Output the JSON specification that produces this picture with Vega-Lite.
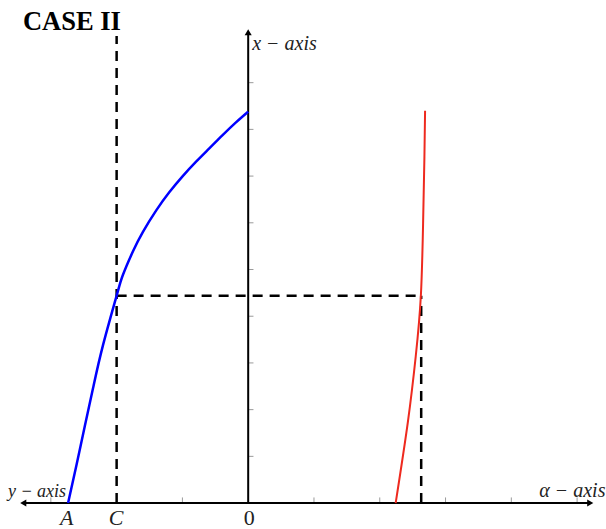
{
  "$schema": "https://vega.github.io/schema/vega-lite/v6.json",
  "width": 606,
  "height": 529,
  "padding": 0,
  "autosize": {"type": "fit", "contains": "padding"},
  "background": "white",
  "config": {"view": {"stroke": null}},
  "datasets": {
    "axes": [
      {"u": -3.42, "v": 0, "u2": 5.2, "v2": 0},
      {"u": 0, "v": 0, "u2": 0, "v2": 10.08}
    ],
    "hticks": [
      {"u": -3, "v": 0, "u2": -3, "v2": 0.12},
      {"u": -1, "v": 0, "u2": -1, "v2": 0.12},
      {"u": 1, "v": 0, "u2": 1, "v2": 0.12},
      {"u": 2, "v": 0, "u2": 2, "v2": 0.12},
      {"u": 3, "v": 0, "u2": 3, "v2": 0.12},
      {"u": 4, "v": 0, "u2": 4, "v2": 0.12},
      {"u": 5, "v": 0, "u2": 5, "v2": 0.12},
      {"u": 0, "v": 1, "u2": 0.08, "v2": 1},
      {"u": 0, "v": 2, "u2": 0.08, "v2": 2},
      {"u": 0, "v": 3, "u2": 0.08, "v2": 3},
      {"u": 0, "v": 4, "u2": 0.08, "v2": 4},
      {"u": 0, "v": 5, "u2": 0.08, "v2": 5},
      {"u": 0, "v": 6, "u2": 0.08, "v2": 6},
      {"u": 0, "v": 7, "u2": 0.08, "v2": 7},
      {"u": 0, "v": 8, "u2": 0.08, "v2": 8},
      {"u": 0, "v": 9, "u2": 0.08, "v2": 9}
    ],
    "dashed": [
      {"u": -2.0, "v": 0, "u2": -2.0, "v2": 10.0},
      {"u": -2.0, "v": 4.44, "u2": 2.63, "v2": 4.44},
      {"u": 2.63, "v": 0, "u2": 2.63, "v2": 4.44}
    ],
    "blue": [
      {"i": 0, "u": -2.738, "v": 0},
      {"i": 1, "u": -2.611, "v": 0.808},
      {"i": 2, "u": -2.485, "v": 1.641},
      {"i": 3, "u": -2.359, "v": 2.457},
      {"i": 4, "u": -2.208, "v": 3.376},
      {"i": 5, "u": -2.0, "v": 4.44},
      {"i": 6, "u": -1.905, "v": 4.882},
      {"i": 7, "u": -1.753, "v": 5.385},
      {"i": 8, "u": -1.602, "v": 5.801},
      {"i": 9, "u": -1.398, "v": 6.265},
      {"i": 10, "u": -1.197, "v": 6.658},
      {"i": 11, "u": -0.995, "v": 7.0},
      {"i": 12, "u": -0.792, "v": 7.31},
      {"i": 13, "u": -0.591, "v": 7.594},
      {"i": 14, "u": -0.389, "v": 7.878},
      {"i": 15, "u": -0.186, "v": 8.15},
      {"i": 16, "u": 0, "v": 8.38}
    ],
    "red": [
      {"i": 0, "u": 2.242, "v": 0},
      {"i": 1, "u": 2.427, "v": 1.73},
      {"i": 2, "u": 2.547, "v": 3.14},
      {"i": 3, "u": 2.625, "v": 4.44},
      {"i": 4, "u": 2.659, "v": 6.0},
      {"i": 5, "u": 2.679, "v": 7.41},
      {"i": 6, "u": 2.689, "v": 8.4}
    ],
    "arrows": [
      {"u": -3.42, "v": 0, "shape": "triangle-left"},
      {"u": 5.2, "v": 0, "shape": "triangle-right"},
      {"u": 0, "v": 10.08, "shape": "triangle-up"}
    ],
    "ylabel": [
      {"u": -3.652, "v": 0.24, "label": "y − axis"}
    ],
    "axislabels": [
      {"u": 4.424, "v": 0.25, "label": "α − axis"},
      {"u": 0.06, "v": 9.82, "label": "x − axis"}
    ],
    "points": [
      {"u": -2.758, "v": -0.32, "label": "A"},
      {"u": -2.01, "v": -0.32, "label": "C"}
    ],
    "origin": [
      {"u": 0.015, "v": -0.32, "label": "0"}
    ],
    "title": [
      {"u": -3.424, "v": 10.3, "label": "CASE II"}
    ]
  },
  "encoding": {
    "x": {"field": "u", "type": "quantitative", "axis": null, "scale": {"domain": [-3.773, 5.409], "nice": false, "zero": false}},
    "y": {"field": "v", "type": "quantitative", "axis": null, "scale": {"domain": [-0.534, 10.77], "nice": false, "zero": false}}
  },
  "layer": [
    {
      "data": {"name": "hticks"},
      "mark": {"type": "rule", "color": "#9a9a9a", "strokeWidth": 1},
      "encoding": {"x2": {"field": "u2"}, "y2": {"field": "v2"}}
    },
    {
      "data": {"name": "dashed"},
      "mark": {"type": "rule", "color": "black", "strokeWidth": 2.5, "strokeDash": [10, 7]},
      "encoding": {"x2": {"field": "u2"}, "y2": {"field": "v2"}}
    },
    {
      "data": {"name": "axes"},
      "mark": {"type": "rule", "color": "black", "strokeWidth": 2},
      "encoding": {"x2": {"field": "u2"}, "y2": {"field": "v2"}}
    },
    {
      "data": {"name": "blue"},
      "mark": {"type": "line", "color": "#0000ff", "strokeWidth": 2.5, "interpolate": "natural"},
      "encoding": {"order": {"field": "i", "type": "quantitative"}}
    },
    {
      "data": {"name": "red"},
      "mark": {"type": "line", "color": "#ee2a1f", "strokeWidth": 2, "interpolate": "natural"},
      "encoding": {"order": {"field": "i", "type": "quantitative"}}
    },
    {
      "data": {"name": "arrows"},
      "mark": {"type": "point", "filled": true, "color": "black", "opacity": 1, "size": 50},
      "encoding": {"shape": {"field": "shape", "type": "nominal", "scale": null}}
    },
    {
      "data": {"name": "ylabel"},
      "mark": {"type": "text", "font": "Liberation Serif", "fontStyle": "italic", "fontSize": 18, "align": "left", "baseline": "middle", "color": "#222"},
      "encoding": {"text": {"field": "label"}}
    },
    {
      "data": {"name": "axislabels"},
      "mark": {"type": "text", "font": "Liberation Serif", "fontStyle": "italic", "fontSize": 20, "align": "left", "baseline": "middle", "color": "#222"},
      "encoding": {"text": {"field": "label"}}
    },
    {
      "data": {"name": "points"},
      "mark": {"type": "text", "font": "Liberation Serif", "fontStyle": "italic", "fontSize": 22, "align": "center", "baseline": "middle", "color": "#222"},
      "encoding": {"text": {"field": "label"}}
    },
    {
      "data": {"name": "origin"},
      "mark": {"type": "text", "font": "Liberation Serif", "fontSize": 22, "align": "center", "baseline": "middle", "color": "#222"},
      "encoding": {"text": {"field": "label"}}
    },
    {
      "data": {"name": "title"},
      "mark": {"type": "text", "font": "Liberation Serif", "fontWeight": "bold", "fontSize": 26.5, "align": "left", "baseline": "middle", "color": "black"},
      "encoding": {"text": {"field": "label"}}
    }
  ]
}
